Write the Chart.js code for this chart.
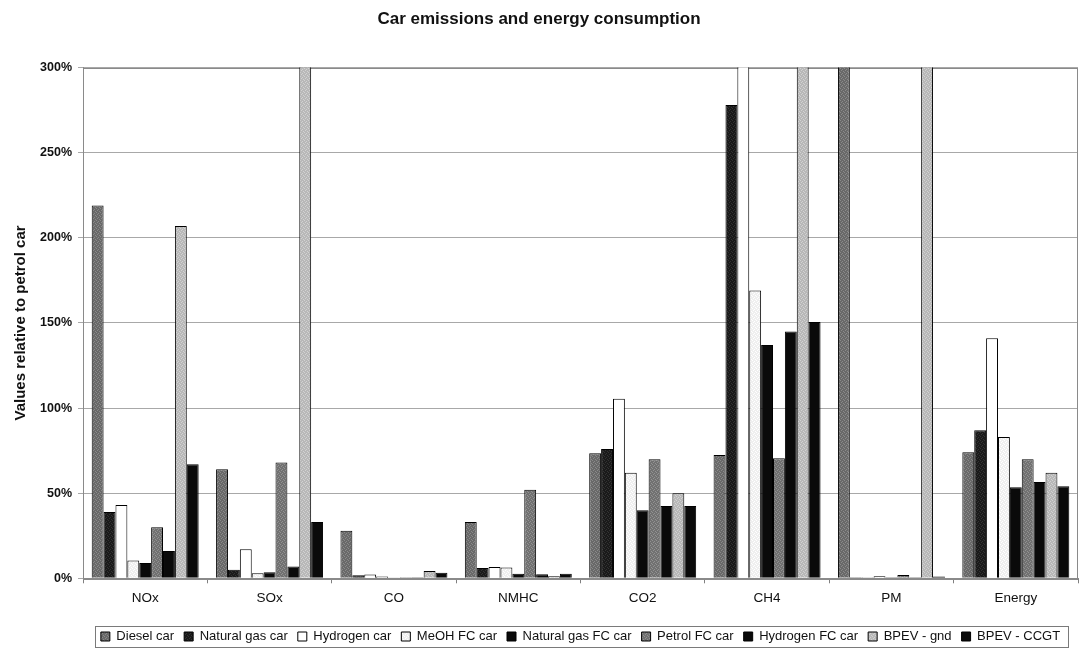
<!DOCTYPE html>
<html>
<head>
<meta charset="utf-8">
<title>Car emissions and energy consumption</title>
<script src="https://cdn.jsdelivr.net/npm/chart.js@4.4.1/dist/chart.umd.min.js"></script>
<style>
  html, body { margin: 0; padding: 0; background: #fff; overflow: hidden; }
  canvas { display: block; }
</style>
</head>
<body>
<canvas id="chart" width="1081" height="653"></canvas>
<script>
// Pollutant / quantity groups along the x axis
const categories = ['NOx', 'SOx', 'CO', 'NMHC', 'CO2', 'CH4', 'PM', 'Energy'];

// Vehicle types (one bar per group each)
const seriesNames = ['Diesel car', 'Natural gas car', 'Hydrogen car', 'MeOH FC car',
  'Natural gas FC car', 'Petrol FC car', 'Hydrogen FC car', 'BPEV - gnd', 'BPEV - CCGT'];

// Values relative to a petrol car, in percent.
// Entries above 300 run past the top of the axis and are cut off there.
const dieselCar       = [219,  64, 28,   33,  73.5, 72.5, 400,  74];
const naturalGasCar   = [39,    5,  1.8,  6,  76,   278,  0.6,  87];
const hydrogenCar     = [43,   17,  2.2,  6.7, 105.5, 400, 0.6, 141];
const meohFcCar       = [10.5,  3,  1,    6.3, 62,  169,  1.2,  83];
const naturalGasFcCar = [9,   3.5,  0.2,  2.7, 40,  137,  0.6,  53.5];
const petrolFcCar     = [30,   68,  0.6, 52,   70,   70.5, 2,   70];
const hydrogenFcCar   = [16,    7,  0.6,  2.4, 42.5, 145, 0.6,  56.5];
const bpevGnd         = [207, 400,  4.3,  1.2, 50,  400,  400,  62];
const bpevCcgt        = [67,   33,  3.2,  2.7, 42.5, 150.5, 1,  54];

// Value-axis tick positions (percent)
const yTickValues = [0, 50, 100, 150, 200, 250, 300];

const FONT = "'Liberation Sans', Arial, Helvetica, sans-serif";
const canvas = document.getElementById('chart');
const ctx = canvas.getContext('2d');

// Small repeating dot texture for the shaded bars
function stipple(base, dot) {
  const tile = document.createElement('canvas');
  tile.width = 4; tile.height = 4;
  const g = tile.getContext('2d');
  g.fillStyle = base; g.fillRect(0, 0, 4, 4);
  g.fillStyle = dot;
  [[0, 0], [2, 1], [1, 2], [3, 3]].forEach(([x, y]) => g.fillRect(x, y, 1, 1));
  return ctx.createPattern(tile, 'repeat');
}

const fills = [
  stipple('#696969', '#8a8a8a'),   // Diesel car
  stipple('#1a1a1a', '#333333'),   // Natural gas car
  '#ffffff',                       // Hydrogen car
  stipple('#efefef', '#ffffff'),   // MeOH FC car
  '#0a0a0a',                       // Natural gas FC car
  stipple('#717171', '#929292'),   // Petrol FC car
  '#0a0a0a',                       // Hydrogen FC car
  stipple('#b8b8b8', '#d2d2d2'),   // BPEV - gnd
  '#0a0a0a'                        // BPEV - CCGT
];

const seriesData = [dieselCar, naturalGasCar, hydrogenCar, meohFcCar, naturalGasFcCar,
  petrolFcCar, hydrogenFcCar, bpevGnd, bpevCcgt];

const datasets = seriesNames.map((name, i) => ({
  label: name,
  data: seriesData[i],
  backgroundColor: fills[i],
  borderColor: '#000000',
  borderWidth: 1
}));

// Frame around the plot area
const plotFrame = {
  id: 'plotFrame',
  beforeDatasetsDraw(chart) {
    const a = chart.chartArea, c = chart.ctx;
    c.save();
    c.strokeStyle = '#8a8a8a';
    c.lineWidth = 1;
    c.strokeRect(Math.round(a.left) + 0.5, Math.round(a.top) + 0.5,
      Math.round(a.right - a.left) - 1, Math.round(a.bottom - a.top));
    c.restore();
  }
};

// Box around the legend row
const legendFrame = {
  id: 'legendFrame',
  afterDraw(chart) {
    const lg = chart.legend;
    if (!lg || !lg.legendHitBoxes || !lg.legendHitBoxes.length) return;
    const hb = lg.legendHitBoxes;
    const l = Math.min(...hb.map(b => b.left)) - 6;
    const r = Math.max(...hb.map(b => b.left + b.width)) + 8;
    const t = Math.min(...hb.map(b => b.top)) - 4;
    const b = Math.max(...hb.map(b => b.top + b.height)) + 4;
    const c = chart.ctx;
    c.save();
    c.strokeStyle = '#7a7a7a';
    c.lineWidth = 1;
    c.strokeRect(Math.round(l) + 0.5, Math.round(t) + 0.5, Math.round(r - l), Math.round(b - t));
    c.restore();
  }
};

new Chart(ctx, {
  type: 'bar',
  data: { labels: categories, datasets },
  plugins: [plotFrame, legendFrame],
  options: {
    responsive: false,
    animation: false,
    events: [],
    layout: { padding: { left: 0, right: 3, top: 0, bottom: 0 } },
    datasets: { bar: { categoryPercentage: 0.86, barPercentage: 1.0 } },
    plugins: {
      title: {
        display: true,
        text: 'Car emissions and energy consumption',
        color: '#111',
        font: { family: FONT, size: 17, weight: 'bold' },
        padding: { top: 9, bottom: 38.2 }
      },
      legend: {
        position: 'bottom',
        fullSize: false,
        labels: {
          color: '#111',
          font: { family: FONT, size: 13 },
          boxWidth: 9,
          boxHeight: 9,
          padding: 10
        }
      },
      tooltip: { enabled: false }
    },
    scales: {
      x: {
        grid: { offset: true, drawOnChartArea: false, drawTicks: true, tickLength: 5, color: '#808080' },
        border: { color: '#8a8a8a' },
        ticks: { color: '#111', font: { family: FONT, size: 13.5 }, padding: 7, maxRotation: 0 },
        afterFit: s => { s.height = 41.7; }
      },
      y: {
        min: 0,
        max: 300,
        afterBuildTicks: s => { s.ticks = yTickValues.map(v => ({ value: v })); },
        ticks: { color: '#111', font: { family: FONT, size: 12.5, weight: 'bold' }, padding: 6, callback: v => v + '%' },
        grid: { color: '#a8a8a8', tickLength: 5 },
        border: { color: '#8a8a8a' },
        title: {
          display: true,
          text: 'Values relative to petrol car',
          color: '#111',
          font: { family: FONT, size: 15, weight: 'bold' },
          padding: { top: 12, bottom: 0 }
        },
        afterFit: s => { s.width = 83; }
      }
    }
  }
});
</script>
</body>
</html>
